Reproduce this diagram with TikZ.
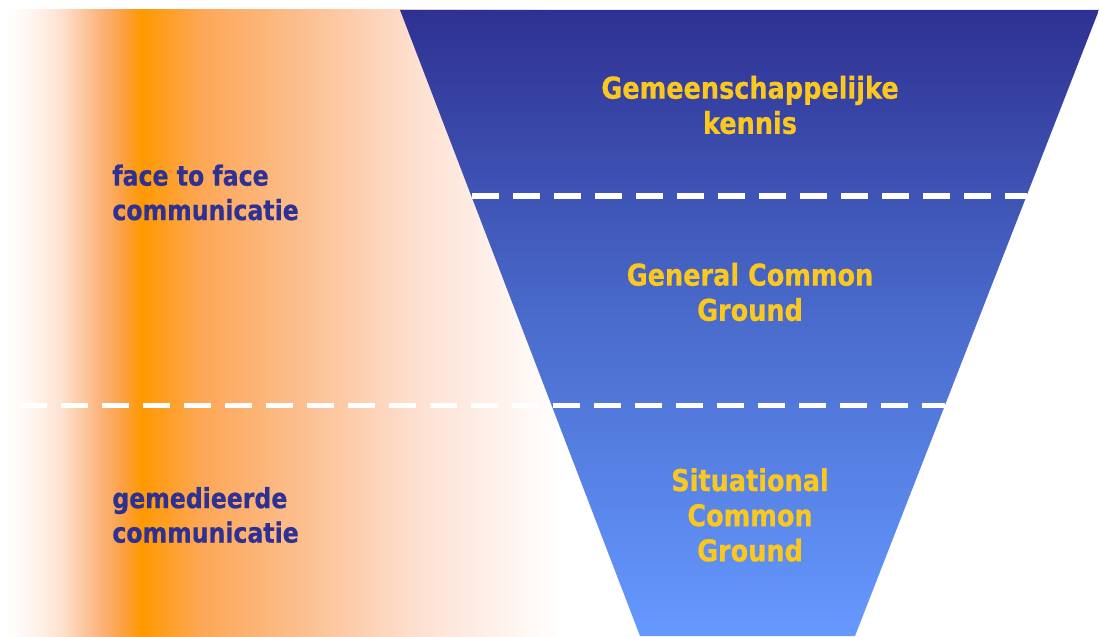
\documentclass[tikz,border=0pt]{standalone}
\usepackage{fontspec}
\newfontfamily\slidefont{DejaVu Sans}[FakeStretch=0.85, FakeBold=0.6]

\definecolor{deepblue}{RGB}{46,49,146}
\definecolor{midblue}{RGB}{74,108,205}
\definecolor{lightblue}{RGB}{102,153,255}
\definecolor{labelyellow}{RGB}{250,200,30}
\definecolor{peachwhite}{RGB}{254,246,241}
\definecolor{peachpale}{RGB}{253,226,208}
\definecolor{peachlight}{RGB}{252,180,125}
\definecolor{orangedeep}{RGB}{252,160,66}
\definecolor{orangepeak}{RGB}{255,153,0}
\definecolor{orangesoft}{RGB}{253,167,86}
\definecolor{peachmid}{RGB}{252,190,142}
\definecolor{peachfade}{RGB}{254,225,210}

% band runs 0..560px, mapped onto 25bp..75bp
\pgfdeclarehorizontalshading{orangeband}{100bp}{color(0bp)=(white); color(25.5bp)=(white);
  color(27.7bp)=(peachwhite); color(30.4bp)=(peachpale); color(33.9bp)=(peachlight);
  color(36bp)=(orangedeep); color(37.6bp)=(orangepeak); color(42.9bp)=(orangesoft);
  color(51.8bp)=(peachmid); color(62.5bp)=(peachfade); color(75bp)=(white);
  color(100bp)=(white)}

\tikzset{
  funnel text/.style={text=labelyellow, align=center, inner sep=0pt,
    font=\slidefont\bfseries\fontsize{17.1pt}{20pt}\selectfont},
  side text/.style={text=deepblue, align=left, anchor=west, inner sep=0pt,
    font=\slidefont\bfseries\fontsize{15.8pt}{19.6pt}\selectfont},
  split line/.style={white, line width=2.85pt, dash pattern=on 0.54cm off 0.28cm}
}

\begin{document}
\begin{tikzpicture}
  \useasboundingbox (0,0) rectangle (21.98,12.72);
  % orange band behind everything
  \shade[shading=orangeband] (0,0) rectangle (11.2,12.52);
  % the funnel
  \shade[top color=deepblue, bottom color=lightblue, middle color=midblue]
    (8.0,12.52) -- (21.98,12.52) -- (17.1,0) -- (12.8,0) -- cycle;
  % dashed separators
  \draw[split line] (9.43,8.8) -- (20.53,8.8);
  \draw[split line] (0.4,4.62) -- (18.9,4.62);
  % funnel layers
  \node[funnel text] (kennis) at (15,10.62) {Gemeenschappelijke\\kennis};
  \node[funnel text] (general) at (15,6.88) {General Common\\Ground};
  \node[funnel text] (situational) at (15,2.42) {Situational\\Common\\Ground};
  % kinds of communication
  \node[side text] (facetoface) at (2.24,8.87) {face to face\\communicatie};
  \node[side text] (mediated) at (2.24,2.42) {gemedieerde\\communicatie};
\end{tikzpicture}
\end{document}
